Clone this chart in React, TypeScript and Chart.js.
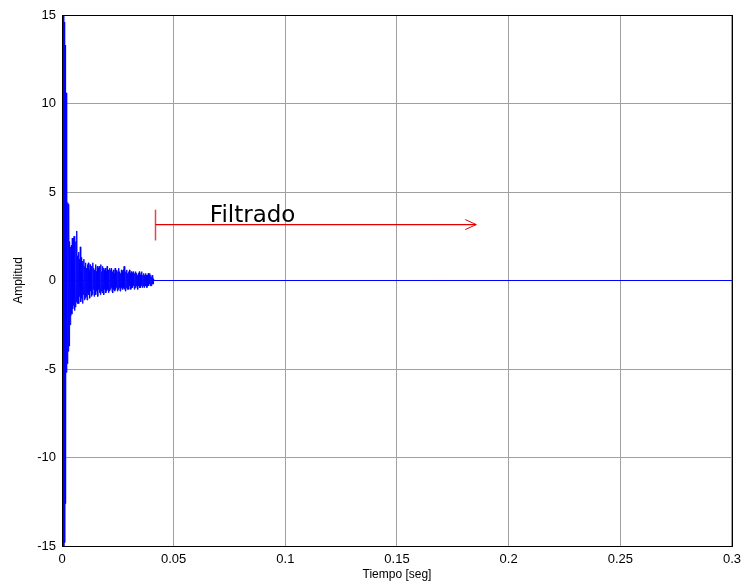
import React, { useEffect, useRef } from "react";
import { Chart, registerables } from "chart.js";

Chart.register(...registerables);

const DT = 0.0002; // sampling step of the recorded signal (s)
const signal = [
  0, 0, 0, 15, -15, 14.6, -14.8, 13.3, -12.6, 10.6, -5.2, 5.8, -4.7, 4.4,
  -4.0, 4.3, -3.7, 2.2, -2.5, 1.9, -2.0, 2.0, -1.9, 2.4,
  -1.6, 2.4, -1.4, 2.5, -1.7, 1.3, -1.5, 2.2, -1.2, 2.8,
  -1.3, 1.4, -1.1, 1.6, -1.3, 1.2, -0.9, 1.9, -1.2, 1.3,
  -1.0, 0.9, -1.3, 1.1, -0.8, 1.2, -1.1, 0.8, -1.0, 1.0,
  -0.9, 0.7, -1.1, 0.9, -0.7, 1.0, -0.8, 0.6, -1.0, 0.9,
  -0.6, 0.8, -0.9, 0.7, -0.8, 1.0, -0.5, 0.7, -0.9, 0.6,
  -0.7, 0.9, -0.8, 0.5, -0.6, 0.8, -0.9, 0.7, -0.5, 0.8,
  -0.7, 0.6, -0.8, 0.9, -0.6, 0.5, -0.7, 0.8, -0.6, 0.7,
  -0.8, 0.6, -0.5, 0.7, -0.7, 0.5, -0.6, 0.8, -0.5, 0.6,
  -0.7, 0.5, -0.6, 0.7, -0.5, 0.6, -0.4, 0.7, -0.6, 0.5,
  -0.7, 0.6, -0.5, 0.4, -0.6, 0.7, -0.5, 0.5, -0.4, 0.6,
  -0.6, 0.5, -0.5, 0.7, -0.4, 0.5, -0.6, 0.4, -0.5, 0.6,
  -0.4, 0.5, -0.5, 0.6, -0.4, 0.8, -0.5, 0.4, -0.6, 0.5,
  -0.4, 0.6, -0.5, 0.4, -0.4, 0.5, -0.5, 0.6, -0.3, 0.4,
  -0.5, 0.5, -0.4, 0.4, -0.4, 0.5, -0.3, 0.4, -0.5, 0.4,
  -0.4, 0.5, -0.3, 0.4, -0.4, 0.3, -0.5, 0.4, -0.3, 0.5,
  -0.4, 0.3, -0.4, 0.4, -0.3, 0.5, -0.4, 0.3, -0.3, 0.4,
  -0.4, 0.3, -0.3, 0.4, -0.3, 0.3, -0.4, 0.3, -0.3, 0.4,
  -0.3, 0.3, -0.2, 0.4, -0.3, 0.3, -0.3, 0.2, -0.2, 0.3,
  -0.2, 0.1, 0,
];
const tailEnd = { t: 0.3, v: 0 };

const xTicks = [0, 0.05, 0.1, 0.15, 0.2, 0.25, 0.3];
const yTicks = [-15, -10, -5, 0, 5, 10, 15];

// annotation (data coordinates)
const arrowStart = 0.0416;
const arrowEnd = 0.1855;
const arrowY = 3.16;
const barLow = 2.26;
const barHigh = 4.0;
const labelX = 0.0662;
const labelY = 3.33;
const labelText = "Filtrado";

const framePlugin = {
  id: "frameAndNote",
  afterDatasetsDraw(chart: any) {
    const { ctx, chartArea, scales } = chart;
    const xs = scales.x;
    const ys = scales.y;
    ctx.save();
    ctx.globalAlpha = 1;
    ctx.setLineDash([]);
    const x0 = Math.round(xs.getPixelForValue(arrowStart)) + 0.5;
    const x1 = xs.getPixelForValue(arrowEnd);
    const yA = ys.getPixelForValue(arrowY);
    // vertical bar
    ctx.strokeStyle = "#e04848";
    ctx.lineWidth = 1.5;
    ctx.beginPath();
    ctx.moveTo(x0, ys.getPixelForValue(barLow));
    ctx.lineTo(x0, ys.getPixelForValue(barHigh));
    ctx.stroke();
    // horizontal arrow
    ctx.strokeStyle = "#e00000";
    ctx.lineWidth = 1.3;
    ctx.beginPath();
    ctx.moveTo(x0, yA);
    ctx.lineTo(x1, yA);
    ctx.stroke();
    ctx.lineWidth = 1;
    ctx.beginPath();
    ctx.moveTo(x1 - 11, yA - 5);
    ctx.lineTo(x1, yA);
    ctx.lineTo(x1 - 11, yA + 5);
    ctx.stroke();
    ctx.fillStyle = "#000";
    ctx.font = "23px 'DejaVu Sans'";
    ctx.textBaseline = "alphabetic";
    ctx.textAlign = "left";
    ctx.fillText(labelText, xs.getPixelForValue(labelX), ys.getPixelForValue(labelY));
    // frame
    ctx.strokeStyle = "#000";
    ctx.lineWidth = 1;
    ctx.strokeRect(
      Math.round(chartArea.left) + 0.5,
      Math.round(chartArea.top) + 0.5,
      Math.round(chartArea.right - chartArea.left),
      Math.round(chartArea.bottom - chartArea.top)
    );
    ctx.restore();
  },
};

export default function App() {
  const ref = useRef<HTMLCanvasElement | null>(null);
  useEffect(() => {
    if (!ref.current) return;
    const pts = signal.map((v, i) => ({ x: i * DT, y: v }));
    pts.push({ x: tailEnd.t, y: tailEnd.v });
    const chart = new Chart(ref.current, {
      type: "line",
      data: {
        datasets: [
          {
            data: pts,
            borderColor: "#0000ff",
            borderWidth: 1,
            pointRadius: 0,
            tension: 0,
            fill: false,
          },
        ],
      },
      options: {
        animation: false,
        responsive: false,
        maintainAspectRatio: false,
        layout: { padding: { top: 15, right: 14, left: 0, bottom: 0 } },
        plugins: { legend: { display: false }, tooltip: { enabled: false } },
        scales: {
          x: {
            type: "linear",
            min: 0,
            max: 0.3,
            afterBuildTicks: (s: any) => {
              s.ticks = xTicks.map((v) => ({ value: v }));
            },
            afterFit: (s: any) => {
              s.height = 39;
            },
            ticks: {
              color: "#000",
              font: { family: "'Liberation Sans', Arial", size: 13 },
              padding: 6,
              maxRotation: 0,
              callback: (v: any) => String(Number(Number(v).toFixed(2))),
            },
            grid: { color: "#a0a0a0", lineWidth: 1, drawTicks: false },
            border: { display: false },
            title: {
              display: true,
              text: "Tiempo [seg]",
              color: "#000",
              font: { family: "'Liberation Sans', Arial", size: 12 },
              padding: { top: 0, bottom: 3 },
            },
          },
          y: {
            type: "linear",
            min: -15,
            max: 15,
            afterBuildTicks: (s: any) => {
              s.ticks = yTicks.map((v) => ({ value: v }));
            },
            afterFit: (s: any) => {
              s.width = 62;
            },
            ticks: {
              color: "#000",
              font: { family: "'Liberation Sans', Arial", size: 13 },
              padding: 6,
            },
            grid: { color: "#a0a0a0", lineWidth: 1, drawTicks: false },
            border: { display: false },
            title: {
              display: true,
              text: "Amplitud",
              color: "#000",
              font: { family: "'Liberation Sans', Arial", size: 12 },
              padding: { top: 11, bottom: 0 },
            },
          },
        },
      },
      plugins: [framePlugin],
    });
    return () => chart.destroy();
  }, []);
  return (
    <div style={{ position: "fixed", left: 0, top: 0, width: 747, height: 585, background: "#fff" }}>
      <canvas ref={ref} width={747} height={585} />
    </div>
  );
}
